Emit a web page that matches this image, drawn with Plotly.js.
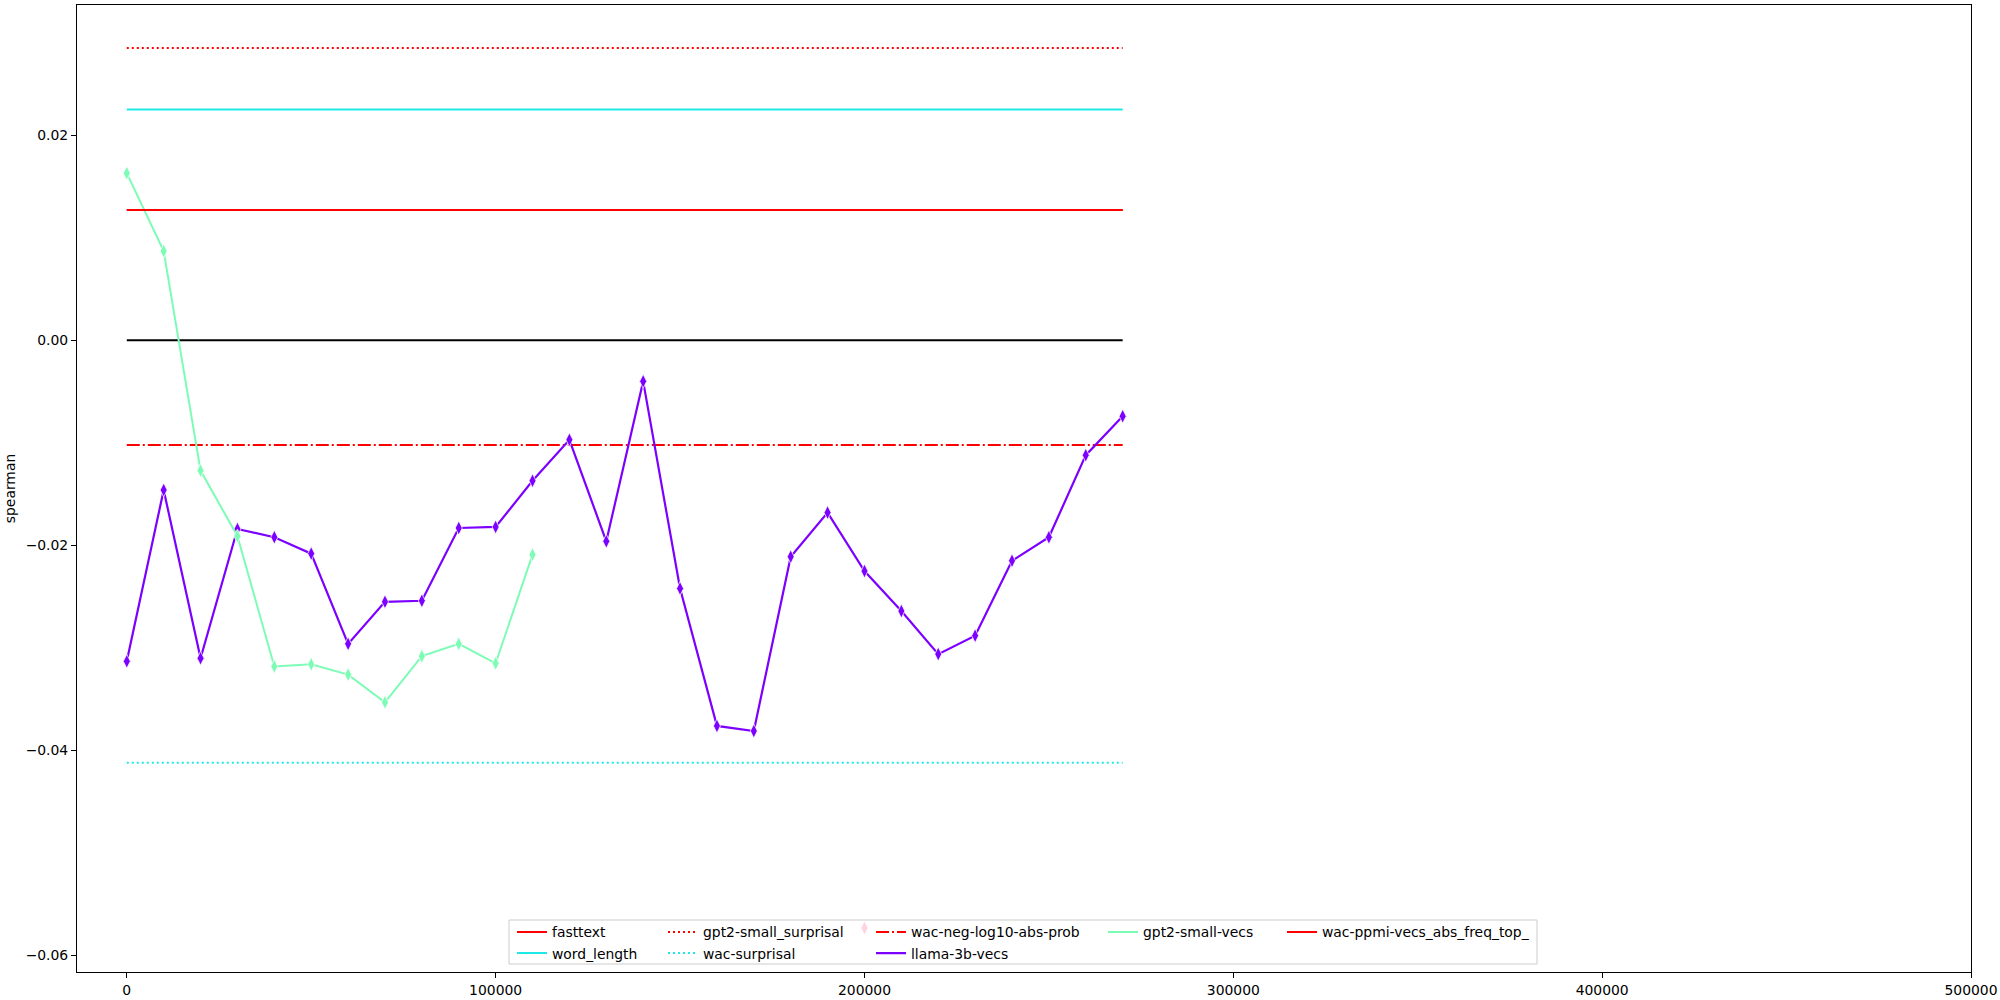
<!DOCTYPE html>
<html>
<head>
<meta charset="utf-8">
<script src="https://cdn.plot.ly/plotly-3.0.1.min.js"></script>
<style>
  html, body { margin: 0; padding: 0; background: #fff; }
  #chart { width: 2000px; height: 1000px; }
</style>
</head>
<body>
<div id="chart"></div>
<script>
// ---- data ----
const xSteps = [0, 10000, 20000, 30000, 40000, 50000, 60000, 70000, 80000, 90000,
  100000, 110000, 120000, 130000, 140000, 150000, 160000, 170000, 180000, 190000,
  200000, 210000, 220000, 230000, 240000, 250000, 260000, 270000];
const llamaVecs = [-0.0313, -0.0146, -0.0310, -0.0184, -0.0192, -0.0208, -0.0296, -0.0255,
  -0.0254, -0.0183, -0.0182, -0.0137, -0.0097, -0.0196, -0.0040, -0.0242, -0.0376,
  -0.0381, -0.0211, -0.0168, -0.0225, -0.0264, -0.0306, -0.0288, -0.0215, -0.0192,
  -0.0112, -0.0074];
const gpt2SmallVecs = [0.0163, 0.0087, -0.0127, -0.0191, -0.0318, -0.0316, -0.0326,
  -0.0353, -0.0308, -0.0296, -0.0315, -0.0209];
const gpt2SmallVecsX = xSteps.slice(0, gpt2SmallVecs.length);
const strayPointX = [200000];
const strayPointY = [-0.0573];

// baselines (constant across steps)
const baselineNames = ["fasttext", "word_length", "gpt2-small_surprisal", "wac-surprisal",
  "wac-neg-log10-abs-prob", "wac-ppmi-vecs_abs_freq_top_"];
const baselineValues = [0.0127, 0.0225, 0.0285, -0.0412, -0.0102, 0.0127];
const zeroLine = 0;

const yTicks = [-0.06, -0.04, -0.02, 0.00, 0.02];
const xTicks = [0, 100000, 200000, 300000, 400000, 500000];

// ---- styling ----
const RED = "#ff0000";
const CYAN = "#1de9e6";
const MINT = "#7dfcb6";
const PURPLE = "#7b00ff";
const FONT = "DejaVu Sans, sans-serif";

const xSpan = [xSteps[0], xSteps[xSteps.length - 1]];
function hline(name, value, color, dash, legend) {
  return {
    x: xSpan, y: [value, value], mode: "lines", name: name,
    line: { color: color, width: 2, dash: dash },
    legend: legend, hoverinfo: "skip"
  };
}

const traces = [
  { x: xSpan, y: [zeroLine, zeroLine], mode: "lines", showlegend: false,
    line: { color: "#000000", width: 2 }, hoverinfo: "skip" },
  hline(baselineNames[0], baselineValues[0], RED, "solid", "legend"),
  hline(baselineNames[1], baselineValues[1], CYAN, "solid", "legend"),
  hline(baselineNames[2], baselineValues[2], RED, "2px,3px", "legend2"),
  hline(baselineNames[3], baselineValues[3], CYAN, "2px,3px", "legend2"),
  hline(baselineNames[4], baselineValues[4], RED, "13px,3px,2px,3px", "legend3"),
  { x: strayPointX, y: strayPointY, mode: "markers", showlegend: false,
    marker: { symbol: "diamond-tall", size: 10, color: "#ff2050",
      line: { color: "#ffffff", width: 0.75 } } },
  { x: xSteps, y: llamaVecs, mode: "lines", name: "llama-3b-vecs", legend: "legend3",
    line: { color: PURPLE, width: 2.2 } },
  { x: xSteps, y: llamaVecs, mode: "markers", showlegend: false,
    marker: { symbol: "diamond-tall", size: 10, color: PURPLE,
      line: { color: "#ffffff", width: 0.75 } } },
  { x: gpt2SmallVecsX, y: gpt2SmallVecs, mode: "lines", name: "gpt2-small-vecs", legend: "legend4",
    line: { color: MINT, width: 2 } },
  { x: gpt2SmallVecsX, y: gpt2SmallVecs, mode: "markers", showlegend: false,
    marker: { symbol: "diamond-tall", size: 10, color: MINT,
      line: { color: "#ffffff", width: 0.75 } } },
  hline(baselineNames[5], baselineValues[5], RED, "solid", "legend5")
];

// plot area in pixels: left 77, right 1971, top 5, bottom 972
const M = { l: 77, r: 29, t: 5, b: 28 };
const plotW = 2000 - M.l - M.r, plotH = 1000 - M.t - M.b;
function px2paperX(p) { return (p - M.l) / plotW; }
function px2paperY(p) { return (1000 - M.b - p) / plotH; }

const legendFont = { family: FONT, size: 13.9, color: "#000000" };
function legendAt(xpx) {
  return { xref: "paper", yref: "paper", x: px2paperX(xpx), y: px2paperY(916.5),
    xanchor: "left", yanchor: "top", bgcolor: "rgba(0,0,0,0)", borderwidth: 0,
    font: legendFont, orientation: "v", itemclick: false, itemdoubleclick: false };
}

const layout = {
  width: 2000, height: 1000,
  margin: M,
  paper_bgcolor: "#ffffff", plot_bgcolor: "#ffffff",
  font: { family: FONT, size: 13.9, color: "#000000" },
  showlegend: true,
  xaxis: {
    range: [-13500, 500000], tickvals: xTicks, tickformat: "d",
    ticks: "outside", ticklen: 5, tickwidth: 1, tickcolor: "#000",
    showgrid: false, zeroline: false, showline: true, linecolor: "#000", linewidth: 1,
    mirror: true, tickfont: { family: FONT, size: 13.9 }
  },
  yaxis: {
    range: [-0.0616, 0.0327], tickvals: yTicks, tickformat: ".2f",
    ticks: "outside", ticklen: 5, tickwidth: 1, tickcolor: "#000",
    showgrid: false, zeroline: false, showline: true, linecolor: "#000", linewidth: 1,
    mirror: true, tickfont: { family: FONT, size: 13.9 },
    title: { text: "spearman", font: { family: FONT, size: 13.9 }, standoff: 6 }
  },
  legend: legendAt(512),
  legend2: legendAt(663),
  legend3: legendAt(871),
  legend4: legendAt(1103),
  legend5: legendAt(1282),
  shapes: [{
    type: "rect", xref: "paper", yref: "paper", layer: "above",
    x0: px2paperX(509), x1: px2paperX(1537), y0: px2paperY(964), y1: px2paperY(920),
    line: { color: "#cccccc", width: 1 }, fillcolor: "rgba(255,255,255,0.8)"
  }]
};

Plotly.newPlot("chart", traces, layout, { staticPlot: true, displayModeBar: false });
</script>
</body>
</html>
